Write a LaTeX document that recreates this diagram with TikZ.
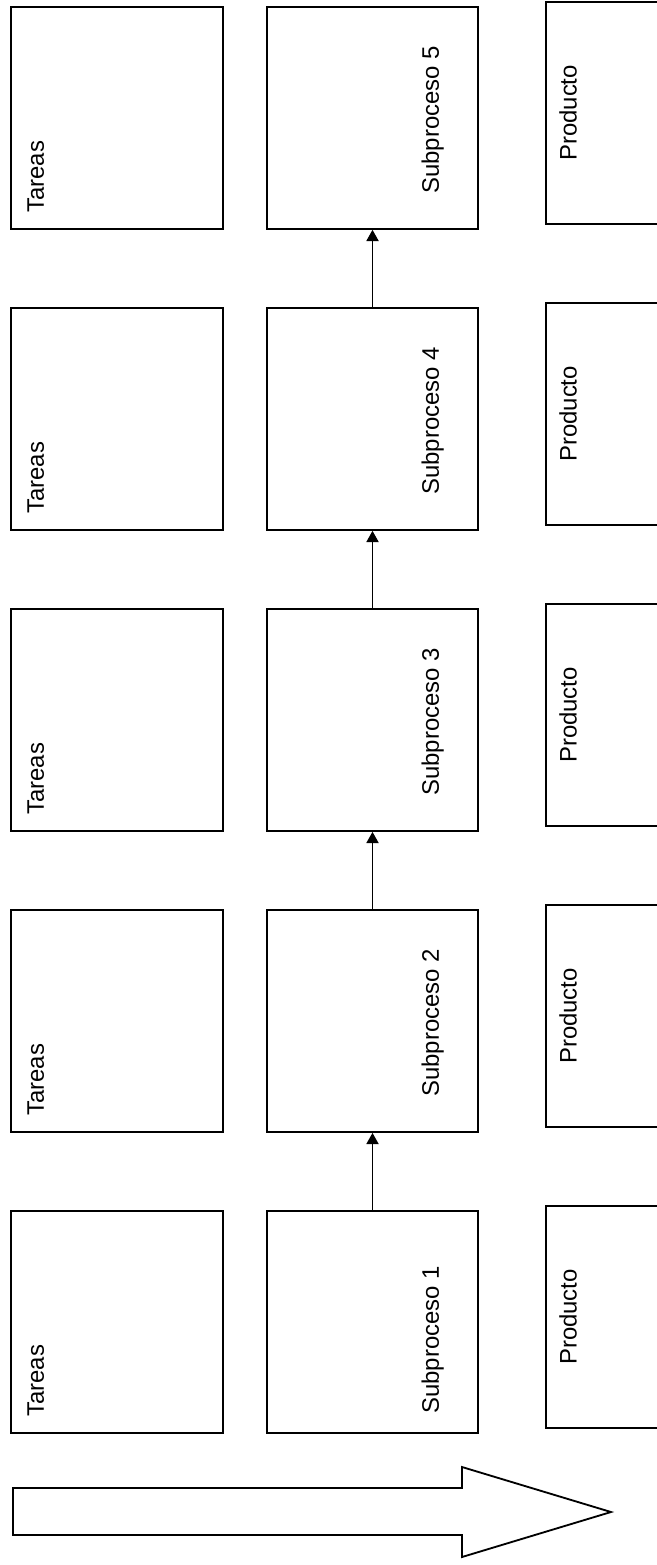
\documentclass[tikz,border=0pt]{standalone}
\usepackage{fontspec}
\setmainfont{Liberation Sans}
\usetikzlibrary{arrows.meta, positioning}

\begin{document}
\begin{tikzpicture}[node distance=1.93cm and 1.05cm, every node/.style={font=\fontsize{17}{20}\selectfont}]
  \useasboundingbox (0,0) rectangle (16.4,-39.125);
  % 定义样式
  \tikzstyle{task}=[rectangle, minimum width=5.3cm, minimum height=5.55cm, draw=black, line width=1.3pt]
  \tikzstyle{subproc}=[rectangle, minimum width=5.275cm, minimum height=5.55cm, draw=black, line width=1.3pt]
  \tikzstyle{product}=[rectangle, minimum width=5cm, minimum height=5.55cm, draw=black, line width=1.3pt]
  \tikzstyle{vlabel}=[rotate=90, inner sep=0pt]
  \tikzstyle{arrow}=[line width=1.3pt, -{Triangle[length=2.8mm, width=3mm]}]

  % 节点
  \node (sub1) [subproc] at (9.3125,-33.05) {};
  \node (sub2) [subproc, above=of sub1] {};
  \node (sub3) [subproc, above=of sub2] {};
  \node (sub4) [subproc, above=of sub3] {};
  \node (sub5) [subproc, above=of sub4] {};

  \node (task1) [task, left=of sub1] {};
  \node (task2) [task, left=of sub2] {};
  \node (task3) [task, left=of sub3] {};
  \node (task4) [task, left=of sub4] {};
  \node (task5) [task, left=of sub5] {};

  \node (prod1) [product, right=1.65cm of sub1, yshift=0.125cm] {};
  \node (prod2) [product, right=1.65cm of sub2, yshift=0.125cm] {};
  \node (prod3) [product, right=1.65cm of sub3, yshift=0.125cm] {};
  \node (prod4) [product, right=1.65cm of sub4, yshift=0.125cm] {};
  \node (prod5) [product, right=1.65cm of sub5, yshift=0.125cm] {};

  % 文字
  \node (ltask1) [vlabel, anchor=north west] at ([shift={(0.425,0.425)}]task1.south west) {Tareas};
  \node (ltask2) [vlabel, anchor=north west] at ([shift={(0.425,0.425)}]task2.south west) {Tareas};
  \node (ltask3) [vlabel, anchor=north west] at ([shift={(0.425,0.425)}]task3.south west) {Tareas};
  \node (ltask4) [vlabel, anchor=north west] at ([shift={(0.425,0.425)}]task4.south west) {Tareas};
  \node (ltask5) [vlabel, anchor=north west] at ([shift={(0.425,0.425)}]task5.south west) {Tareas};

  \node (lsub1) [vlabel, anchor=base west] at ([shift={(-1.0,0.5)}]sub1.south east) {Subproceso 1};
  \node (lsub2) [vlabel, anchor=base west] at ([shift={(-1.0,0.9)}]sub2.south east) {Subproceso 2};
  \node (lsub3) [vlabel, anchor=base west] at ([shift={(-1.0,0.9)}]sub3.south east) {Subproceso 3};
  \node (lsub4) [vlabel, anchor=base west] at ([shift={(-1.0,0.9)}]sub4.south east) {Subproceso 4};
  \node (lsub5) [vlabel, anchor=base west] at ([shift={(-1.0,0.9)}]sub5.south east) {Subproceso 5};

  \node (lprod1) [vlabel, anchor=north] at ([xshift=0.35cm]prod1.west) {Producto};
  \node (lprod2) [vlabel, anchor=north] at ([xshift=0.35cm]prod2.west) {Producto};
  \node (lprod3) [vlabel, anchor=north] at ([xshift=0.35cm]prod3.west) {Producto};
  \node (lprod4) [vlabel, anchor=north] at ([xshift=0.35cm]prod4.west) {Producto};
  \node (lprod5) [vlabel, anchor=north] at ([xshift=0.35cm]prod5.west) {Producto};

  % 箭头
  \draw[arrow] (sub1) -- (sub2);
  \draw[arrow] (sub2) -- (sub3);
  \draw[arrow] (sub3) -- (sub4);
  \draw[arrow] (sub4) -- (sub5);

  % 大箭头
  \draw[line width=1.3pt] (0.325,-37.2) -- (11.55,-37.2) -- (11.55,-36.675) -- (15.275,-37.8)
    -- (11.55,-38.925) -- (11.55,-38.375) -- (0.325,-38.375) -- cycle;
\end{tikzpicture}
\end{document}
